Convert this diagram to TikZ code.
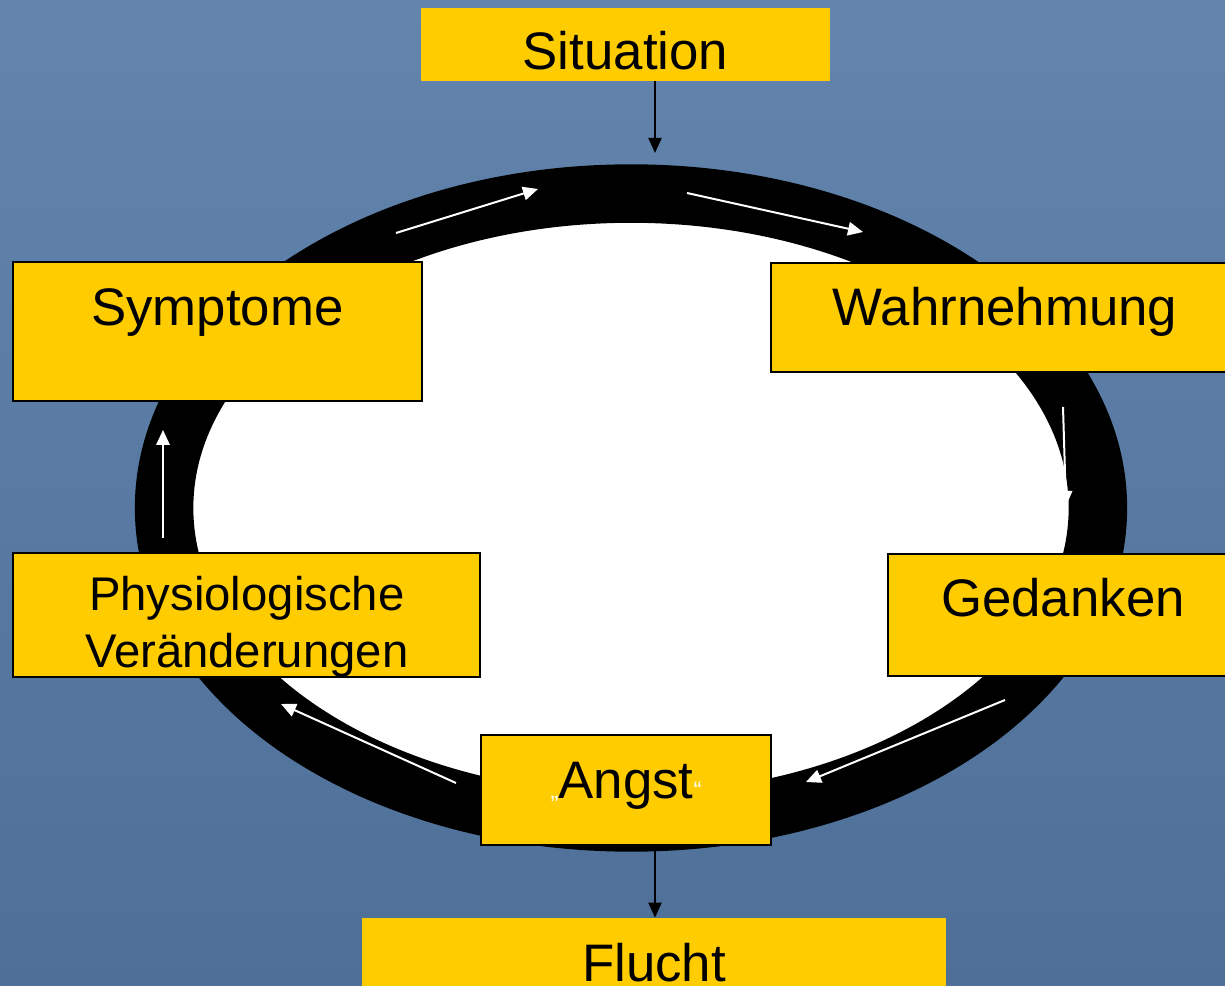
\documentclass[tikz,border=0pt]{standalone}
\usepackage{fontspec}
\setmainfont{Liberation Sans}
\usetikzlibrary{arrows.meta}
\definecolor{bgtop}{RGB}{99,133,173}
\definecolor{bgbot}{RGB}{78,112,152}
\definecolor{boxyellow}{RGB}{255,204,0}
\newcommand\boxfont{\fontsize{30.05pt}{36pt}\selectfont}
\newcommand\physfont{\fontsize{26.9pt}{32.1pt}\selectfont}
\newcommand\quotefont{\fontsize{13.6pt}{16pt}\selectfont}
\begin{document}
\begin{tikzpicture}[x=0.02cm, y=-0.02cm,
  box/.style={rectangle, fill=boxyellow, inner sep=0pt, align=center, font=\boxfont},
  framed/.style={draw=black, line width=0.04cm},
  ringarrow/.style={draw=white, line width=0.04cm, -{Triangle[length=0.3cm,width=0.27cm]}},
  flowarrow/.style={draw=black, line width=0.04cm, -{Triangle[length=0.3cm,width=0.26cm]}}]
\useasboundingbox (0,0) rectangle (1225,986);
\clip (0,0) rectangle (1225,986);
\shade[top color=bgtop, bottom color=bgbot] (0,0) rectangle (1225,986);
% ring
\draw[black, line width=1.17cm, fill=white] (631,508) ellipse [x radius=9.34cm, y radius=6.29cm];
% ring arrows
\coordinate (a1s) at (396,233); \coordinate (a1e) at (538,189);
\coordinate (a2s) at (687,193); \coordinate (a2e) at (863,232);
\coordinate (a3s) at (1063,407); \coordinate (a3e) at (1066,506);
\coordinate (a4s) at (1005,700); \coordinate (a4e) at (806,782);
\coordinate (a5s) at (456,783); \coordinate (a5e) at (281,704);
\coordinate (a6s) at (163,538); \coordinate (a6e) at (163,430);
\draw[ringarrow] (a1s) -- (a1e);
\draw[ringarrow] (a2s) -- (a2e);
\draw[ringarrow] (a3s) -- (a3e);
\draw[ringarrow] (a4s) -- (a4e);
\draw[ringarrow] (a5s) -- (a5e);
\draw[ringarrow] (a6s) -- (a6e);
% boxes
\node[box, minimum width=8.18cm, minimum height=1.45cm, text height=1.22cm, text depth=0.22cm] (sit) at (625.5,44.5) {Situation};
\node[box, framed, minimum width=8.18cm, minimum height=2.78cm, text height=0.8cm, text depth=1.02cm] (sym) at (217.5,331.5) {Symptome};
\node[box, framed, minimum width=9.35cm, minimum height=2.18cm, text height=0.8cm, text depth=0.46cm] (wahr) at (1005,317.5) {Wahrnehmung};
\node[box, framed, minimum width=9.35cm, minimum height=2.44cm, font=\physfont] (phys) at (246.75,615) {\rule{0pt}{1.15cm}Physiologische\\Veränderungen};
\node[box, framed, minimum width=7.0cm, minimum height=2.44cm, text height=0.8cm, text depth=0.72cm] (ged) at (1063,615) {Gedanken};
\node[box, framed, minimum width=5.82cm, minimum height=2.2cm, text height=0.8cm, text depth=0.44cm] (angst) at (626,790) {{\color{white}\quotefont „}Angst{\color{white}\quotefont “}};
\node[box, minimum width=11.68cm, minimum height=1.64cm, text height=1.2cm, text depth=0.28cm] (flucht) at (654,959) {Flucht};
% flow arrows
\coordinate (axis) at (655,0);
\coordinate (ringtop) at (655,153);
\draw[flowarrow] (sit.south -| axis) -- (ringtop);
\draw[flowarrow] (angst.south -| axis) -- (flucht.north -| axis);
\end{tikzpicture}
\end{document}
